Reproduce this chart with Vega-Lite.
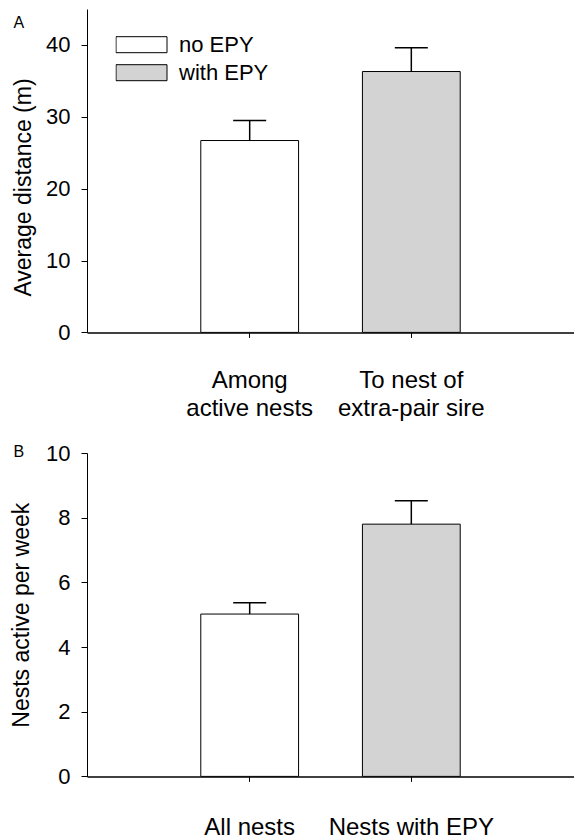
{
  "$schema": "https://vega.github.io/schema/vega-lite/v6.json",
  "padding": {"left": 10, "top": 9, "right": 0, "bottom": 0},
  "background": "white",
  "spacing": 21,
  "config": {
    "font": "Liberation Sans",
    "view": {"stroke": null},
    "axis": {"grid": false, "domainColor": "black", "tickColor": "black", "labelColor": "black", "titleColor": "black", "labelFont": "Liberation Sans", "titleFont": "Liberation Sans", "titleFontWeight": "normal"},
    "legend": {"labelFont": "Liberation Sans", "labelColor": "black"}
  },
  "datasets": {
    "a": [
      {"cat": "Among|active nests", "group": "no EPY", "mean": 26.7, "upper": 29.5},
      {"cat": "To nest of|extra-pair sire", "group": "with EPY", "mean": 36.3, "upper": 39.6}
    ],
    "b": [
      {"cat": "All nests", "group": "no EPY", "mean": 5.02, "upper": 5.37},
      {"cat": "Nests with EPY", "group": "with EPY", "mean": 7.8, "upper": 8.52}
    ]
  },
  "resolve": {"scale": {"color": "independent"}, "legend": {"color": "independent"}},
  "vconcat": [
    {
      "width": 487,
      "height": 323.4,
      "data": {"name": "a"},
      "encoding": {
        "x": {
          "field": "cat", "type": "nominal", "sort": null,
          "scale": {"paddingInner": 0.395, "paddingOuter": 0.704},
          "axis": {
            "title": "A", "titleX": -74, "titleY": -304.7, "titleAngle": 0, "titleAlign": "left", "titleBaseline": "alphabetic", "titleFontSize": 16,
            "labelExpr": "split(datum.label, '|')", "labelAngle": 0,
            "labelFontSize": 24, "labelLineHeight": 28, "tickSize": 5, "labelPadding": 31,
            "domainWidth": 1.5, "tickWidth": 1,
            "encode": {"labels": {"update": {"dx": {"signal": "datum.value === 'To nest of|extra-pair sire' ? 8 : 2"}}}}
          }
        }
      },
      "layer": [
        {
          "mark": {"type": "bar", "stroke": "black", "strokeWidth": 1},
          "encoding": {
            "y": {
              "field": "mean", "type": "quantitative",
              "scale": {"domain": [0, 45], "nice": false},
              "axis": {"title": "Average distance (m)", "values": [0, 10, 20, 30, 40], "tickSize": 6, "labelPadding": 11, "labelFontSize": 22, "titleFontSize": 23, "titlePadding": 10, "titleY": 178, "domainWidth": 1, "tickWidth": 1}
            },
            "color": {
              "field": "group", "type": "nominal",
              "scale": {"domain": ["no EPY", "with EPY"], "range": ["#ffffff", "#d3d3d3"]},
              "legend": {"title": null, "orient": "none", "legendX": 28.5, "legendY": 24.7, "symbolType": "M-1,-0.3137L1,-0.3137L1,0.3137L-1,0.3137Z", "symbolSize": 2601, "symbolStrokeColor": "black", "symbolStrokeWidth": 1, "symbolOpacity": 1, "labelFontSize": 22, "labelOffset": 11.5, "clipHeight": 22, "rowPadding": 6, "padding": 0}
            }
          }
        },
        {
          "mark": {"type": "rule", "strokeWidth": 1.5, "color": "black"},
          "encoding": {"y": {"field": "mean", "type": "quantitative"}, "y2": {"field": "upper"}}
        },
        {
          "mark": {"type": "tick", "size": 33, "thickness": 1.5, "color": "black", "opacity": 1},
          "encoding": {"y": {"field": "upper", "type": "quantitative"}}
        }
      ]
    },
    {
      "width": 487,
      "height": 323.4,
      "data": {"name": "b"},
      "encoding": {
        "x": {
          "field": "cat", "type": "nominal", "sort": null,
          "scale": {"paddingInner": 0.395, "paddingOuter": 0.704},
          "axis": {
            "title": "B", "titleX": -74, "titleY": -319.7, "titleAngle": 0, "titleAlign": "left", "titleBaseline": "alphabetic", "titleFontSize": 16,
            "labelAngle": 0,
            "labelFontSize": 24, "tickSize": 5, "labelPadding": 34,
            "domainWidth": 1.5, "tickWidth": 1,
            "encode": {"labels": {"update": {"dx": {"signal": "datum.value === 'Nests with EPY' ? 15 : 2"}, "dy": {"signal": "datum.value === 'All nests' ? 3 : 0"}}}}
          }
        }
      },
      "layer": [
        {
          "mark": {"type": "bar", "stroke": "black", "strokeWidth": 1},
          "encoding": {
            "y": {
              "field": "mean", "type": "quantitative",
              "scale": {"domain": [0, 10], "nice": false},
              "axis": {"title": "Nests active per week", "values": [0, 2, 4, 6, 8, 10], "tickSize": 6, "labelPadding": 11, "labelFontSize": 22, "titleFontSize": 23, "titlePadding": 12, "domainWidth": 1, "tickWidth": 1}
            },
            "color": {
              "field": "group", "type": "nominal",
              "scale": {"domain": ["no EPY", "with EPY"], "range": ["#ffffff", "#d3d3d3"]},
              "legend": null
            }
          }
        },
        {
          "mark": {"type": "rule", "strokeWidth": 1.5, "color": "black"},
          "encoding": {"y": {"field": "mean", "type": "quantitative"}, "y2": {"field": "upper"}}
        },
        {
          "mark": {"type": "tick", "size": 33, "thickness": 1.5, "color": "black", "opacity": 1},
          "encoding": {"y": {"field": "upper", "type": "quantitative"}}
        }
      ]
    }
  ]
}
